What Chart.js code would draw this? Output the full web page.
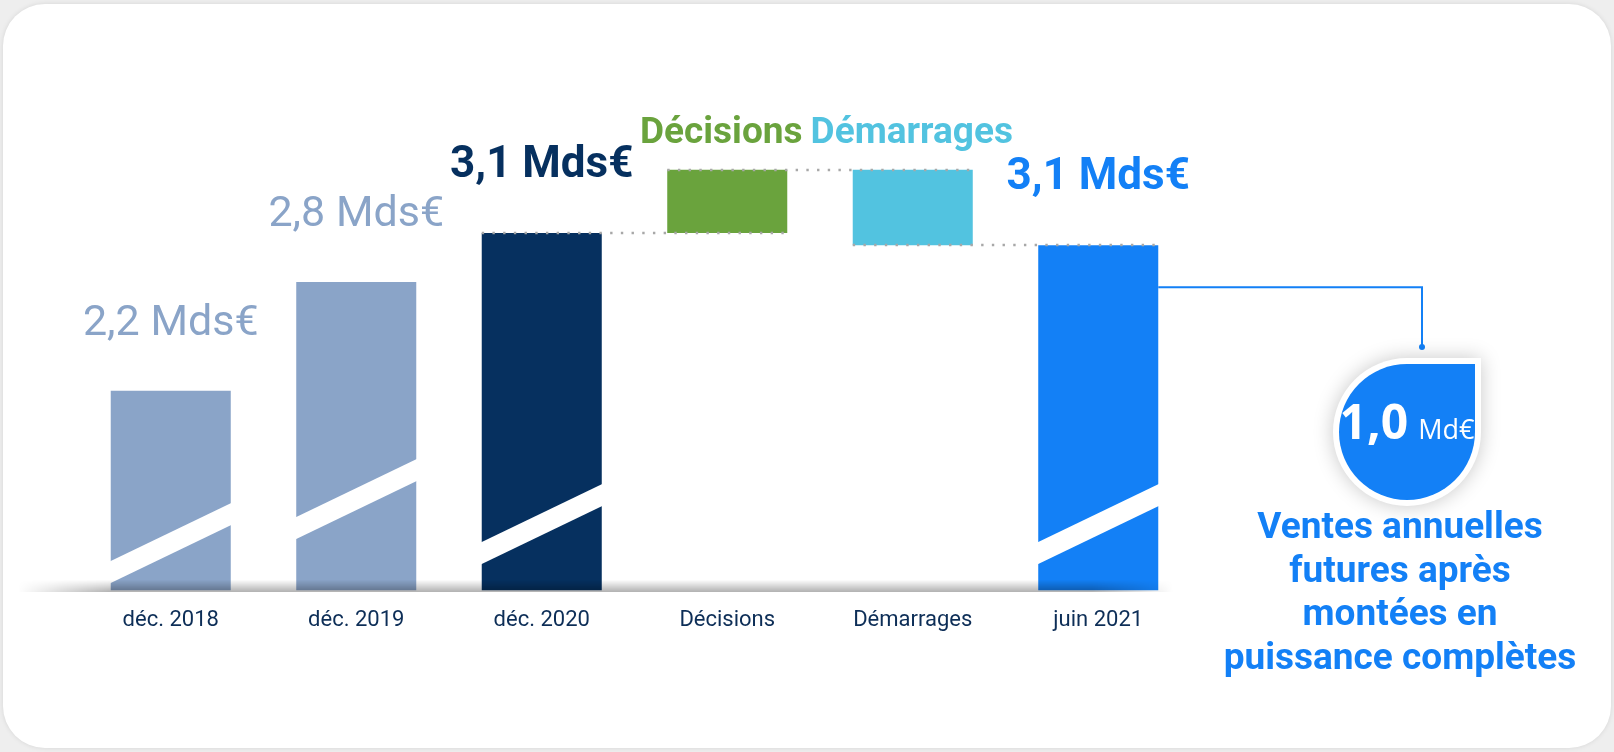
<!DOCTYPE html>
<html lang="fr">
<head>
<meta charset="utf-8">
<title>Ventes annuelles futures</title>
<script src="https://cdn.jsdelivr.net/npm/chart.js@4.4.1/dist/chart.umd.min.js"></script>
<style>
  html, body { margin: 0; padding: 0; background: #eeeeee; }
  body { width: 1614px; height: 752px; position: relative; overflow: hidden; font-family: Roboto, sans-serif; }
  .card { position: absolute; left: 3px; top: 4px; width: 1608px; height: 744px; background: #fff; border-radius: 42px; box-shadow: 0 0 5px rgba(0,0,0,0.10); }
  #chart { position: absolute; left: 0; top: 0; }
</style>
</head>
<body>
<div class="card"></div>
<canvas id="chart" width="1614" height="752"></canvas>
<script>
// Values in Mds€ (totals, then the two changes of the waterfall)
const categories = ['déc. 2018', 'déc. 2019', 'déc. 2020', 'Décisions', 'Démarrages', 'juin 2021'];
const values = [2.2, 2.82, 3.1, 0.36, -0.43, 3.03];
const barKinds = ['total', 'total', 'total', 'change', 'change', 'total'];
const valueLabels = ['2,2 Mds€', '2,8 Mds€', '3,1 Mds€', 'Décisions', 'Démarrages', '3,1 Mds€'];
const barColors = ['#8aa4c8', '#8aa4c8', '#06305f', '#6aa33d', '#52c3e0', '#1380f6'];

// Callout
const futureSales = '1,0';
const futureSalesUnit = 'Md€';
const futureSalesText = ['Ventes annuelles', 'futures après', 'montées en', 'puissance complètes'];

// axis is cut (broken bars), so it does not start at zero
const Y_MIN = 1.06, Y_MAX = 4.2;

// Build floating bars: totals start at the axis, changes start at the running total
let running = 0;
const ranges = values.map((v, i) => {
  if (barKinds[i] === 'total') { running = v; return [Y_MIN, v]; }
  const from = running;
  running += v;
  return [from, running];
});

// Styles for the labels above the bars
const labelStyles = [
  { font: '400 43px Roboto', color: '#8aa4c8', gap: 56, dx: 0 },
  { font: '400 43px Roboto', color: '#8aa4c8', gap: 56, dx: 0 },
  { font: '700 44px Roboto', color: '#06305f', gap: 56, dx: 0 },
  { font: '700 37px Roboto', color: '#6aa33d', gap: 27, dx: -6 },
  { font: '700 37px Roboto', color: '#52c3e0', gap: 27, dx: -1 },
  { font: '700 44px Roboto', color: '#1380f6', gap: 56, dx: 0 }
];
// White diagonal cut near the bottom of the total bars (distance above the base)
const breakOffsets = { 0: 29, 1: 73, 2: 48, 5: 48 };

const waterfallExtras = {
  id: 'waterfallExtras',
  afterDatasetsDraw(chart) {
    const ctx = chart.ctx;
    const bars = chart.getDatasetMeta(0).data;
    const yScale = chart.scales.y;
    const area = chart.chartArea;

    // axis break stripes
    ctx.save();
    ctx.fillStyle = '#ffffff';
    Object.keys(breakOffsets).forEach(k => {
      const b = bars[k];
      const xl = b.x - b.width / 2 - 1, xr = b.x + b.width / 2 + 1;
      const y0 = b.base - breakOffsets[k];
      const rise = (xr - xl) * 0.483;
      ctx.beginPath();
      ctx.moveTo(xl, y0);
      ctx.lineTo(xr, y0 - rise);
      ctx.lineTo(xr, y0 - rise + 22);
      ctx.lineTo(xl, y0 + 22);
      ctx.closePath();
      ctx.fill();
    });
    ctx.restore();

    // soft floor shadow along the base line
    const sw = 1155, sh = 12;
    const off = document.createElement('canvas');
    off.width = sw; off.height = sh;
    const o = off.getContext('2d');
    const vg = o.createLinearGradient(0, 0, 0, sh);
    vg.addColorStop(0, 'rgba(0,0,0,0)');
    vg.addColorStop(1, 'rgba(0,0,0,0.30)');
    o.fillStyle = vg;
    o.fillRect(0, 0, sw, sh);
    o.globalCompositeOperation = 'destination-in';
    const hg = o.createLinearGradient(0, 0, sw, 0);
    hg.addColorStop(0, 'rgba(0,0,0,0)');
    hg.addColorStop(0.08, 'rgba(0,0,0,1)');
    hg.addColorStop(0.93, 'rgba(0,0,0,1)');
    hg.addColorStop(1, 'rgba(0,0,0,0)');
    o.fillStyle = hg;
    o.fillRect(0, 0, sw, sh);
    ctx.drawImage(off, 18, area.bottom - sh + 1);

    // dotted connectors between consecutive waterfall steps
    ctx.save();
    ctx.strokeStyle = '#a8a8a8';
    ctx.lineWidth = 2.4;
    ctx.setLineDash([2.4, 8.3]);
    for (let i = 2; i <= 4; i++) {
      const y = Math.round(yScale.getPixelForValue(ranges[i][1]));
      ctx.beginPath();
      ctx.moveTo(bars[i].x - bars[i].width / 2, y);
      ctx.lineTo(bars[i + 1].x + bars[i + 1].width / 2, y);
      ctx.stroke();
    }
    ctx.restore();

    // labels above bars
    ctx.save();
    ctx.textAlign = 'center';
    ctx.textBaseline = 'alphabetic';
    bars.forEach((b, i) => {
      const st = labelStyles[i];
      const top = yScale.getPixelForValue(Math.max(ranges[i][0], ranges[i][1]));
      ctx.font = st.font;
      ctx.fillStyle = st.color;
      ctx.fillText(valueLabels[i], b.x + st.dx, top - st.gap);
    });
    ctx.restore();

    // callout from the last bar to the bubble
    const last = bars[5];
    const blue = barColors[5];
    const lineY = last.y + 42, lineX = 1422, dotY = 347;
    ctx.save();
    ctx.strokeStyle = blue;
    ctx.lineWidth = 2;
    ctx.beginPath();
    ctx.moveTo(last.x + last.width / 2, lineY);
    ctx.lineTo(lineX, lineY);
    ctx.lineTo(lineX, dotY);
    ctx.stroke();
    ctx.fillStyle = blue;
    ctx.beginPath();
    ctx.arc(lineX, dotY, 3, 0, Math.PI * 2);
    ctx.fill();

    // drop shaped bubble
    const cx = 1407, cy = 432;
    const drop = r => {
      ctx.beginPath();
      ctx.moveTo(cx, cy - r);
      ctx.lineTo(cx + r, cy - r);
      ctx.lineTo(cx + r, cy);
      ctx.arc(cx, cy, r, 0, Math.PI * 1.5, false);
      ctx.closePath();
    };
    ctx.shadowColor = 'rgba(0,0,0,0.22)';
    ctx.shadowBlur = 20;
    ctx.fillStyle = '#ffffff';
    drop(74);
    ctx.fill();
    ctx.shadowColor = 'transparent';
    ctx.shadowBlur = 0;
    ctx.fillStyle = blue;
    drop(68);
    ctx.fill();

    ctx.fillStyle = '#ffffff';
    ctx.textBaseline = 'alphabetic';
    ctx.textAlign = 'left';
    ctx.font = '700 48px "Open Sans"';
    const w1 = ctx.measureText(futureSales).width;
    ctx.font = '400 27px "Open Sans"';
    const w2 = ctx.measureText(futureSalesUnit).width;
    const gap = 10;
    const tx = cx - (w1 + gap + w2) / 2;
    ctx.font = '700 48px "Open Sans"';
    ctx.fillText(futureSales, tx, 439);
    ctx.font = '400 27px "Open Sans"';
    ctx.fillText(futureSalesUnit, tx + w1 + gap, 439);

    // caption under the bubble
    ctx.textAlign = 'center';
    ctx.fillStyle = blue;
    ctx.font = '700 37px Roboto';
    futureSalesText.forEach((line, i) => {
      ctx.fillText(line, 1400, 538 + i * 43.5);
    });
    ctx.restore();
  }
};

function drawChart() {
  const ctx = document.getElementById('chart').getContext('2d');
  new Chart(ctx, {
    type: 'bar',
    data: {
      labels: categories,
      datasets: [{
        data: ranges,
        backgroundColor: barColors,
        borderWidth: 0,
        barPercentage: 0.647,
        categoryPercentage: 1
      }]
    },
    options: {
      responsive: false,
      devicePixelRatio: 1,
      animation: false,
      layout: { padding: { left: 78, right: 423, top: 40, bottom: 101 } },
      plugins: {
        legend: { display: false },
        tooltip: { enabled: false }
      },
      scales: {
        x: {
          grid: { display: false, drawTicks: false },
          border: { display: false },
          ticks: {
            color: '#0d2e57',
            font: { family: 'Roboto', size: 22 },
            padding: 17,
            maxRotation: 0,
            autoSkip: false
          }
        },
        y: { display: false, min: Y_MIN, max: Y_MAX }
      }
    },
    plugins: [waterfallExtras]
  });
}

Promise.all([
  document.fonts.load('400 43px Roboto'),
  document.fonts.load('700 44px Roboto'),
  document.fonts.load('700 48px "Open Sans"'),
  document.fonts.load('400 27px "Open Sans"')
]).then(drawChart, drawChart);
</script>
</body>
</html>
